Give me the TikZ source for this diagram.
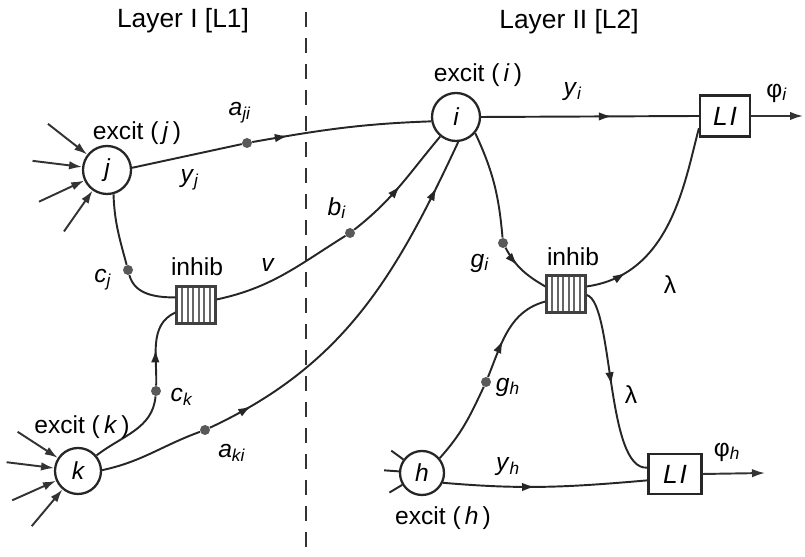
\documentclass[tikz,border=0pt]{standalone}
\usepackage{fontspec}
\setmainfont{Liberation Sans}
\usetikzlibrary{arrows.meta,decorations.markings,calc}

\newcommand{\wsub}[2]{\textit{#1}\textsubscript{\textit{#2}}}

\begin{document}
\begin{tikzpicture}[x=0.2mm,y=0.2mm,
  axon/.style={draw=black!85,line width=1.1pt},
  feed/.style={draw=black!80,line width=1.1pt,-{Latex[length=2.6mm,width=1.7mm]}},
  pulse/.style={postaction={decorate,decoration={markings,
    mark=at position #1 with {\arrow{Latex[length=2.6mm,width=1.7mm]}}}}},
  cell/.style={circle,draw=black!85,line width=1.3pt,fill=white,
    minimum size=9.6mm,inner sep=0pt,font=\fontsize{14}{16}\selectfont\itshape},
  syn/.style={circle,fill=black!65,minimum size=2mm,inner sep=0pt},
  gate/.style={rectangle,draw=black!75,line width=1.4pt,fill=white,
    minimum width=7.8mm,minimum height=7.4mm,inner sep=0pt,
    path picture={\foreach \s in {1,...,6}
      \draw[black!60,line width=1.1pt]
        ([xshift=\s*1.11mm]path picture bounding box.south west) --
        ([xshift=\s*1.11mm]path picture bounding box.north west);}},
  limbox/.style={rectangle,draw=black!85,line width=1.2pt,fill=white,
    inner sep=0pt,font=\fontsize{15}{17}\selectfont\itshape},
  lab/.style={font=\fontsize{14}{16}\selectfont,inner sep=1pt},
  heading/.style={font=\fontsize{15}{18}\selectfont}]

\useasboundingbox (0,0) rectangle (805,557);

% Layer divider and titles.
\draw[black!80,line width=1pt,dash pattern=on 3mm off 2.2mm] (306,545) -- (306,0);
\node[heading] (t1) at (183,536) {Layer I [L1]};
\node[heading] (t2) at (569,535) {Layer II [L2]};

% Cells, inhibitory gates and lateral-inhibition boxes.
\node[cell] (j) at (107,387) {j};
\node[cell] (i) at (456,440) {i};
\node[cell,minimum size=9.2mm] (k) at (78,86) {k};
\node[cell,minimum size=8.8mm] (h) at (422,84) {h};
\node[gate] (inhL) at (196,252) {};
\node[gate] (inhR) at (566,263) {};
\node[limbox,minimum width=10mm,minimum height=8.2mm] (LI1) at (725,441) {L\kern1pt I};
\node[limbox,minimum width=10.6mm,minimum height=8mm] (LI2) at (675,83) {L\kern1pt I};
\coordinate (outI) at (803,441);
\coordinate (outH) at (765,84);

% Synaptic weights.
\foreach \n/\x/\y in {dji/247/414,cj/128/287,bi/350/324,ck/156/166,
                      aki/205/127,gi/503/314,gh/486/175}
  \node[syn] (\n) at (\x,\y) {};

% Afferent inputs.
\foreach \a in {142,173,205,235}
  \draw[feed] ($(j)+(\a:75)$) -- (j.\a);
\foreach \a in {147,173,204,230}
  \draw[feed] ($(k)+(\a:72)$) -- (k.\a);
\foreach \a in {144,176,211}
  \draw[axon] ($(h)+(\a:38)$) -- (h.\a);

% Layer I to layer II.
\draw[axon] (j.5) -- (dji);
\draw[axon,pulse=.2] (dji) to[out=10,in=182] (i.190);
\draw[axon] (j.-75) to[out=-88,in=105] (cj);
\draw[axon] (cj) to[out=-75,in=180] (inhL.160);
\draw[axon] (inhL.15) to[out=12,in=212] (bi);
\draw[axon,pulse=.5] (bi) to[out=38,in=230] (i.231);
\draw[axon] (k.40) to[out=38,in=-95] (ck);
\draw[axon,pulse=.45] (ck) to[out=88,in=205] (inhL.200);
\draw[axon] (k.2) to[out=12,in=200] (aki);
\draw[axon,pulse=.12,pulse=.87] (aki) to[out=25,in=245] (i.275);

% Layer II: outputs and lateral inhibition.
\draw[axon,pulse=.6] (i.east) -- (LI1.west);
\draw[feed] (LI1.east) -- (outI);
\draw[axon] (i.-40) to[out=-65,in=95] (gi);
\draw[axon,pulse=.38] (gi) to[out=-62,in=150] (inhR.160);
\draw[axon,pulse=.2] (inhR.20) .. controls +(8:85) and +(-105:55) .. (LI1.205);
\draw[axon,pulse=.5] (inhR.-3) .. controls +(-15:28) and +(-175:42) .. (LI2.167);
\draw[axon] (h.40) to[out=48,in=-115] (gh);
\draw[axon,pulse=.4] (gh) to[out=68,in=195] (inhR.200);
\draw[axon,pulse=.45] (h.-25) to[out=-5,in=185] (LI2.193);
\draw[feed] (LI2.east) -- (outH);

% Labels.
\node[lab] (ej) at (137,424) {excit (\,\textit{j}\,)};
\node[lab] (ei) at (478,482) {excit (\,\textit{i}\,)};
\node[lab] (ek) at (82,130) {excit (\,\textit{k}\,)};
\node[lab] (eh) at (443,39) {excit (\,\textit{h}\,)};
\node[lab] (nL) at (197,290) {inhib};
\node[lab] (nR) at (573,300) {inhib};
\node[lab] (wji) at (240,444) {\wsub{a}{ji}};
\node[lab] (wj) at (190,377) {\wsub{y}{j}};
\node[lab] (wbi) at (337,349) {\wsub{b}{i}};
\node[lab] (wv) at (268,292) {\textit{v}};
\node[lab] (wcj) at (103,277) {\wsub{c}{j}};
\node[lab] (wck) at (182,160) {\wsub{c}{k}};
\node[lab] (wki) at (232,104) {\wsub{a}{ki}};
\node[lab] (wyi) at (573,465) {\wsub{y}{i}};
\node[lab] (wpi) at (777,464) {φ\textsubscript{\textit{i}}};
\node[lab] (wgi) at (480,294) {\wsub{g}{i}};
\node[lab] (wl1) at (670,272) {λ};
\node[lab] (wgh) at (508,170) {\wsub{g}{h}};
\node[lab] (wl2) at (631,162) {λ};
\node[lab] (wph) at (727,105) {φ\textsubscript{\textit{h}}};
\node[lab] (wyh) at (508,90) {\wsub{y}{h}};
\end{tikzpicture}
\end{document}
